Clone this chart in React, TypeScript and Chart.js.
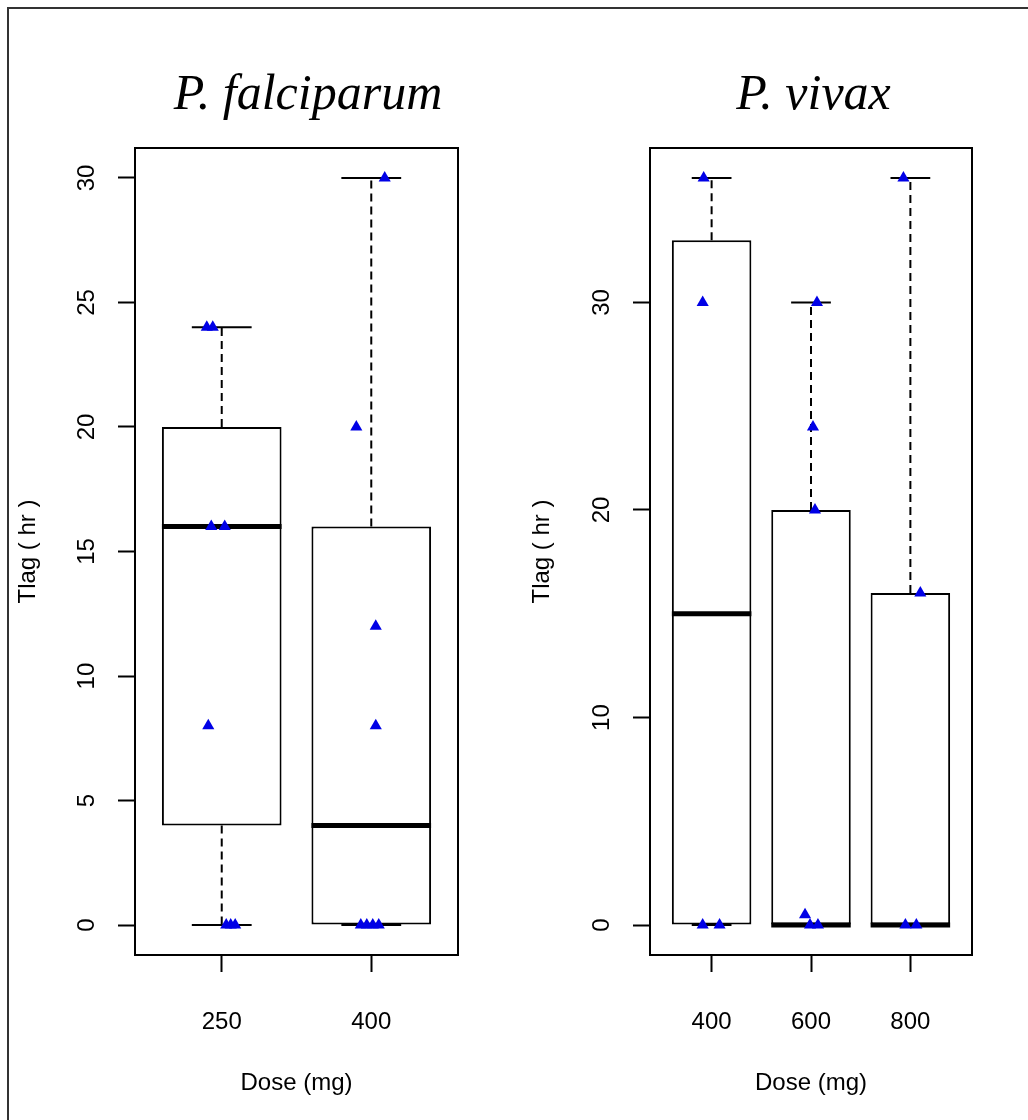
import React, { useEffect, useRef } from 'react';
import { Chart, registerables } from 'chart.js';

Chart.register(...registerables);

// ---------- P. falciparum ----------
const pfTitle = 'P. falciparum';
const pfDoses = ['250', '400'];
const pfWhiskerLow = [0, 0];
const pfQ1 = [4, 0];
const pfMedian = [16, 4];
const pfQ3 = [20, 16];
const pfWhiskerHigh = [24, 30];
const pfYTicks = [0, 5, 10, 15, 20, 25, 30];
// individual observations (x = jittered group position, y = Tlag)
const pfPointX = [0.9, 0.94, 0.93, 1.02, 0.91, 1.03, 1.06, 1.09, 2.09, 1.9, 2.03, 2.03, 1.93, 1.97, 2.01, 2.05];
const pfPointY = [24, 24, 16, 16, 8, 0, 0, 0, 30, 20, 12, 8, 0, 0, 0, 0];

// ---------- P. vivax ----------
const pvTitle = 'P. vivax';
const pvDoses = ['400', '600', '800'];
const pvWhiskerLow = [0, 0, 0];
const pvQ1 = [0, 0, 0];
const pvMedian = [15, 0, 0];
const pvQ3 = [33, 20, 16];
const pvWhiskerHigh = [36, 30, 36];
const pvYTicks = [0, 10, 20, 30];
const pvPointX = [0.92, 0.91, 0.91, 1.08, 2.06, 2.02, 2.04, 1.94, 1.99, 2.07, 2.93, 3.1, 2.95, 3.06];
const pvPointY = [36, 30, 0, 0, 30, 24, 20, 0.5, 0, 0, 36, 16, 0, 0];

const yAxisTitle = 'Tlag ( hr )';
const xAxisTitle = 'Dose (mg)';

const SANS = "'Liberation Sans', Arial, sans-serif";
const SERIF = "'Liberation Serif', 'Times New Roman', serif";
const POINT_COLOR = '#0000e6';

type Panel = {
  title: string;
  doses: string[];
  wLo: number[];
  q1: number[];
  med: number[];
  q3: number[];
  wHi: number[];
  yTicks: number[];
  px: number[];
  py: number[];
};

type Geo = { yWidth: number; rightWidth: number; canvasWidth: number };

function buildChart(canvas: HTMLCanvasElement, p: Panel, g: Geo) {
  const n = p.doses.length;
  const allY = [...p.wLo, ...p.wHi, ...p.py];
  const lo = Math.min(...allY);
  const hi = Math.max(...allY);
  const yPad = (hi - lo) * 0.04;
  const xPad = n * 0.04;
  const tickFont = { family: SANS, size: 24 };

  const boxParts = {
    id: 'boxParts',
    beforeDatasetsDraw(chart: any) {
      const { ctx, chartArea: a } = chart;
      ctx.save();
      ctx.strokeStyle = '#000';
      ctx.lineWidth = 2;
      ctx.strokeRect(a.left, a.top, a.right - a.left, a.bottom - a.top);
      ctx.restore();
    },
    afterDatasetDraw(chart: any, args: any) {
      if (args.index !== 1) return;
      const { ctx } = chart;
      const ys = chart.scales.y;
      ctx.save();
      ctx.strokeStyle = '#000';
      args.meta.data.forEach((bar: any, i: number) => {
        const { x, width } = bar.getProps(['x', 'width'], true);
        const cap = width * 0.25;
        const pQ1 = ys.getPixelForValue(p.q1[i]);
        const pQ3 = ys.getPixelForValue(p.q3[i]);
        const pLo = ys.getPixelForValue(p.wLo[i]);
        const pHi = ys.getPixelForValue(p.wHi[i]);
        // dashed whiskers
        ctx.lineWidth = 2;
        ctx.setLineDash([8, 5]);
        ctx.beginPath();
        if (p.wHi[i] > p.q3[i]) {
          ctx.moveTo(x, pQ3);
          ctx.lineTo(x, pHi);
        }
        if (p.wLo[i] < p.q1[i]) {
          ctx.moveTo(x, pQ1);
          ctx.lineTo(x, pLo);
        }
        ctx.stroke();
        // staples
        ctx.setLineDash([]);
        ctx.beginPath();
        ctx.moveTo(x - cap, pHi);
        ctx.lineTo(x + cap, pHi);
        ctx.moveTo(x - cap, pLo);
        ctx.lineTo(x + cap, pLo);
        ctx.stroke();
        // median
        const pMed = ys.getPixelForValue(p.med[i]);
        ctx.lineWidth = 5;
        ctx.beginPath();
        ctx.moveTo(x - width / 2, pMed);
        ctx.lineTo(x + width / 2, pMed);
        ctx.stroke();
      });
      ctx.restore();
    },
  };

  return new Chart(canvas, {
    type: 'bar',
    data: {
      datasets: [
        {
          type: 'scatter',
          order: 0,
          data: p.px.map((x, i) => ({ x, y: p.py[i] })),
          pointStyle: 'triangle',
          pointRadius: 7,
          pointBackgroundColor: POINT_COLOR,
          pointBorderColor: POINT_COLOR,
          pointBorderWidth: 0,
          showLine: false,
        } as any,
        {
          type: 'bar',
          order: 1,
          data: p.doses.map((_, i) => ({ x: i + 1, y: [p.q1[i], p.q3[i]] })),
          backgroundColor: '#ffffff',
          borderColor: '#000000',
          borderWidth: 2,
          borderSkipped: false,
          categoryPercentage: 1,
          barPercentage: 0.8,
        } as any,
      ],
    },
    options: {
      responsive: false,
      animation: false,
      events: [],
      layout: { padding: 0 },
      plugins: {
        legend: { display: false },
        tooltip: { enabled: false },
        title: {
          display: true,
          text: p.title,
          color: '#000',
          fullSize: true,
          font: { family: SERIF, style: 'italic', size: 50, weight: 'normal', lineHeight: 1.2 },
          padding: { top: 66, bottom: 22 },
        },
      },
      scales: {
        x: {
          type: 'linear',
          offset: false,
          min: 0.5 - xPad,
          max: n + 0.5 + xPad,
          afterBuildTicks: (s: any) => {
            s.ticks = p.doses.map((_, i) => ({ value: i + 1 }));
          },
          afterFit: (s: any) => {
            s.height = 165;
          },
          ticks: {
            autoSkip: false,
            maxRotation: 0,
            minRotation: 0,
            color: '#000',
            font: tickFont,
            padding: 36,
            callback: (v: any) => p.doses[Math.round(Number(v)) - 1] ?? '',
          },
          grid: {
            display: true,
            offset: false,
            drawOnChartArea: false,
            drawTicks: true,
            tickLength: 17,
            tickWidth: 2,
            tickColor: '#000',
          },
          border: { display: false },
          title: {
            display: true,
            text: xAxisTitle,
            color: '#000',
            font: { family: SANS, size: 24, lineHeight: 1.2 },
            padding: { top: 0, bottom: 22 },
          },
        },
        y: {
          type: 'linear',
          min: lo - yPad,
          max: hi + yPad,
          afterBuildTicks: (s: any) => {
            s.ticks = p.yTicks.map((v) => ({ value: v }));
          },
          afterFit: (s: any) => {
            s.width = g.yWidth;
          },
          ticks: {
            autoSkip: false,
            minRotation: 90,
            maxRotation: 90,
            crossAlign: 'center',
            color: '#000',
            font: tickFont,
            padding: 17,
          },
          grid: {
            display: true,
            drawOnChartArea: false,
            drawTicks: true,
            tickLength: 17,
            tickWidth: 2,
            tickColor: '#000',
          },
          border: { display: false },
          title: {
            display: true,
            text: yAxisTitle,
            color: '#000',
            font: { family: SANS, size: 24, lineHeight: 1.2 },
            padding: { top: 14, bottom: 0 },
          },
        },
        yRight: {
          type: 'linear',
          position: 'right',
          display: true,
          afterFit: (s: any) => {
            s.width = g.rightWidth;
          },
          ticks: { display: false },
          grid: { display: false },
          border: { display: false },
        },
      },
    } as any,
    plugins: [boxParts],
  });
}

const pfPanel: Panel = {
  title: pfTitle, doses: pfDoses, wLo: pfWhiskerLow, q1: pfQ1, med: pfMedian, q3: pfQ3,
  wHi: pfWhiskerHigh, yTicks: pfYTicks, px: pfPointX, py: pfPointY,
};
const pvPanel: Panel = {
  title: pvTitle, doses: pvDoses, wLo: pvWhiskerLow, q1: pvQ1, med: pvMedian, q3: pvQ3,
  wHi: pvWhiskerHigh, yTicks: pvYTicks, px: pvPointX, py: pvPointY,
};

export default function App() {
  const leftRef = useRef<HTMLCanvasElement>(null);
  const rightRef = useRef<HTMLCanvasElement>(null);

  useEffect(() => {
    const c1 = buildChart(leftRef.current!, pfPanel, { yWidth: 135, rightWidth: 158, canvasWidth: 616 });
    const c2 = buildChart(rightRef.current!, pvPanel, { yWidth: 136, rightWidth: 141, canvasWidth: 599 });
    return () => {
      c1.destroy();
      c2.destroy();
    };
  }, []);

  return (
    <div
      style={{
        position: 'fixed',
        left: 0,
        top: 0,
        width: 1028,
        height: 1120,
        overflow: 'hidden',
        background: '#fff',
      }}
    >
      <div
        style={{
          position: 'absolute',
          left: 7,
          top: 7,
          width: 1100,
          height: 1200,
          borderTop: '2px solid #333',
          borderLeft: '2px solid #333',
        }}
      />
      <canvas
        ref={leftRef}
        width={616}
        height={1120}
        style={{ position: 'absolute', left: 0, top: 0, display: 'block' }}
      />
      <canvas
        ref={rightRef}
        width={599}
        height={1120}
        style={{ position: 'absolute', left: 514, top: 0, display: 'block' }}
      />
    </div>
  );
}
